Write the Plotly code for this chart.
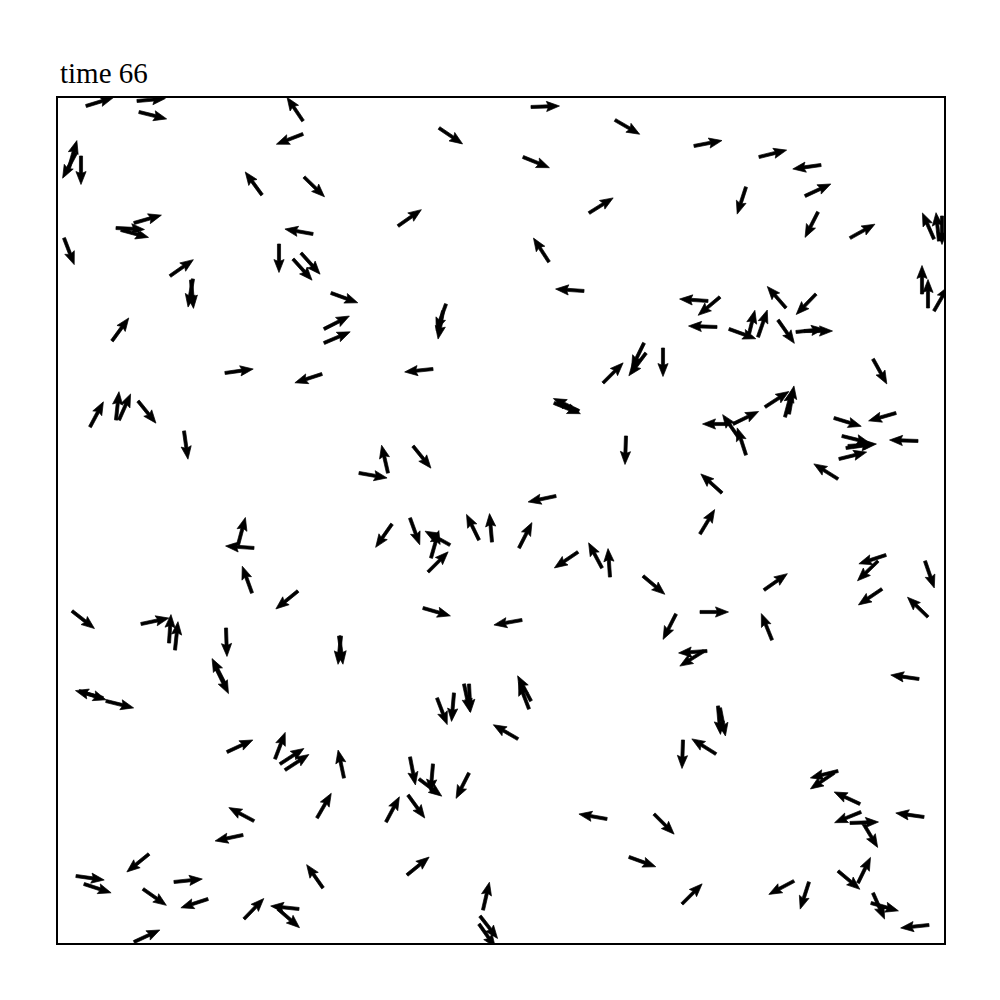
import numpy as np
import plotly.graph_objects as go

# particle positions (tail of each arrow) and headings (degrees, counter-clockwise from +x)
x = [28, 79, 81, 245, 245, 18, 11, 23, 246, 204, 58, 63, 76, 6, 255, 221, 243, 235, 112, 135, 133, 273,
     473, 557, 381, 465, 531, 340, 491, 526,
     636, 701, 763, 747, 688, 760, 792, 881, 876, 884, 864, 870, 876, 650, 662, 728, 758,
     659, 671, 690, 700, 720, 738, 746, 586, 545, 588, 605, 815, 707, 727, 731,
     673, 675, 688, 681, 776, 838, 784, 790, 781, 788, 860, 780, 664, 642,
     388, 385, 375, 266, 266, 521, 496, 568, 330, 301, 355, 498,
     54, 167, 264, 32, 58, 61, 80, 126,
     180, 196, 194, 240, 14, 83, 111, 117, 168, 167, 158, 281, 283, 45, 21, 48,
     334, 352, 392, 373, 370, 421, 434, 461, 520, 544, 552, 585, 365, 464,
     379, 396, 406, 411, 471, 473, 460,
     642, 618, 706, 714, 649, 646, 662, 660, 828, 820, 824, 867, 870, 861,
     169, 217, 222, 227, 286, 259, 196, 185, 91, 18, 26, 85, 116, 150, 186, 265, 241, 220, 76,
     352, 375, 361, 411, 328, 350, 549, 349, 425, 422, 421, 571,
     625, 658, 596, 780, 776, 802, 803, 792, 805, 866, 780, 800, 736, 751, 624, 815, 813, 871]
y = [837, 842, 831, 822, 809, 790, 775, 787, 766, 748, 715, 713, 720, 705, 709, 699, 690, 684, 667, 664, 663, 650,
     836, 823, 815, 786, 730, 717, 681, 652,
     797, 786, 778, 747, 756, 731, 705, 702, 704, 727, 649, 635, 632, 642, 646, 635, 649,
     616, 614, 605, 606, 623, 611, 612, 600, 560, 590, 595, 584, 536, 526, 529,
     519, 519, 488, 505, 525, 530, 507, 497, 484, 495, 502, 464, 450, 409,
     639, 632, 574, 614, 600, 532, 540, 507, 470, 470, 497, 447,
     602, 570, 569, 516, 523, 523, 542, 512,
     398, 395, 350, 352, 332, 319, 300, 293, 315, 259, 275, 307, 307, 245, 252, 242,
     419, 425, 398, 385, 371, 403, 401, 395, 391, 375, 366, 367, 335, 323,
     245, 250, 259, 259, 234, 242, 204,
     331, 329, 353, 303, 292, 292, 235, 237, 388, 382, 354, 382, 326, 264,
     191, 184, 179, 173, 165, 125, 122, 108, 89, 67, 59, 54, 61, 44, 24, 55, 34, 34, 1,
     186, 179, 164, 170, 121, 148, 124, 68, 33, 27, 19, 86,
     203, 189, 129, 172, 170, 139, 131, 120, 120, 126, 72, 60, 62, 61, 39, 50, 40, 18]
angle_deg = [17, 5, -14, 124, 201, 242, 74, -90, -44, 126, -3, -15, 16, -69, 170, -90, -48, -48, 35, -100, -85, -20,
             2, -30, -34, -22, 32, 35, 123, 176,
             11, 14, 188, 25, 252, 243, 29, 96, 114, -90, 90, 90, 60, 176, 220, 131, 226,
             178, -20, 76, 71, -55, 6, 0, 244, 45, 233, -90, -61, 33, 75, 80,
             180, 26, 108, 125, -17, 196, -14, 4, 14, 8, 178, 148, 138, 59,
             250, 260, 186, 27, 23, 154, -22, -92, 103, -10, -51, 192,
             54, 8, 198, 62, 84, 66, -51, -82,
             75, 176, 110, 219, -38, 12, 86, 84, -88, 117, -64, -82, -96, 165, -18, -14,
             235, -70, 151, 74, 45, 116, 95, 63, 214, 118, 94, -40, -16, 190,
             -69, -95, -78, -87, 111, 118, 150,
             0, 243, 35, 112, 184, 212, -79, -85, 198, 224, 214, -71, 136, 172,
             25, 69, 33, 33, 102, 60, 152, 192, 219, -8, -18, -35, 6, 198, 46, 125, 174, -41, 25,
             -79, -95, -37, 243, 62, -54, 170, 39, 77, -52, -55, -20,
             -92, 148, -45, 194, 214, 155, 202, 2, -59, 172, -40, 64, 208, 252, 45, -66, -16, 186]

title_text = "time 66"
box_w, box_h = 886, 845

# arrow shape (quiver style), in axis units (1 unit = 1 px here)
L, w, hl, hal, hw = 28.5, 3.1, 13.0, 11.5, 10.2
shape_u = np.array([0, L - hal, L - hl, L, L - hl, L - hal, 0, 0])
shape_v = np.array([-w / 2, -w / 2, -hw / 2, 0, hw / 2, w / 2, w / 2, -w / 2])

px, py = [], []
for xi, yi, ai in zip(x, y, angle_deg):
    t = np.deg2rad(ai)
    c, s = np.cos(t), np.sin(t)
    px.extend((xi + shape_u * c - shape_v * s).tolist() + [None])
    py.extend((yi + shape_u * s + shape_v * c).tolist() + [None])

fig = go.Figure()
fig.add_trace(go.Scatter(x=px, y=py, mode="lines", fill="toself",
                         fillcolor="black", line=dict(color="black", width=0.7),
                         hoverinfo="skip", showlegend=False))

axis_common = dict(showgrid=False, zeroline=False, showticklabels=False, ticks="",
                   showline=True, mirror=True, linecolor="black", linewidth=1.6)
fig.update_xaxes(range=[0, box_w], **axis_common)
fig.update_yaxes(range=[0, box_h], **axis_common)

fig.update_layout(
    width=1000, height=1000,
    margin=dict(l=50, r=64, t=90, b=65),
    paper_bgcolor="white", plot_bgcolor="white",
    showlegend=False,
    annotations=[dict(text=title_text, xref="paper", yref="paper", x=0, y=1,
                      xanchor="left", yanchor="bottom", yshift=7, showarrow=False,
                      font=dict(family="Liberation Serif, Times New Roman, serif", size=29, color="black"))],
)

fig.write_html("out.html")
